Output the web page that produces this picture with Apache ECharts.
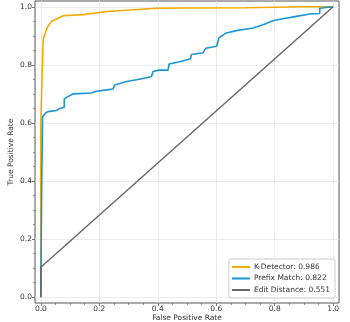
<!DOCTYPE html>
<html>
<head>
<meta charset="utf-8">
<style>
  html, body { margin: 0; padding: 0; background: #fff; }
  #chart { width: 350px; height: 322px; }
</style>
<script src="https://cdn.jsdelivr.net/npm/echarts@6/dist/echarts.min.js"></script>
</head>
<body>
<div id="chart"></div>
<script>
// ROC curves
var kdName = 'K-Detector: 0.986'
var kdX = [0, 0, 0.004, 0.008, 0.014, 0.022, 0.036, 0.054, 0.076, 0.145, 0.150, 0.225, 0.304, 0.396, 0.5, 0.7, 0.9, 1.0]
var kdY = [0, 0.6, 0.76, 0.889, 0.906, 0.929, 0.950, 0.958, 0.969, 0.973, 0.979, 0.984, 0.989, 0.995, 0.996, 0.997, 1.0, 1.0]

var pmName = 'Prefix Match: 0.822'
var pmX = [0, 0.003, 0.006, 0.019, 0.031, 0.054, 0.065, 0.080, 0.080, 0.088, 0.110, 0.173, 0.190, 0.225, 0.247, 0.253, 0.293, 0.327, 0.378, 0.384, 0.404, 0.435, 0.439, 0.475, 0.512, 0.515, 0.555, 0.564, 0.601, 0.610, 0.635, 0.669, 0.726, 0.760, 0.794, 0.823, 0.874, 0.920, 0.954, 0.954, 1.0]
var pmY = [0, 0.4, 0.622, 0.637, 0.640, 0.643, 0.650, 0.654, 0.683, 0.688, 0.700, 0.703, 0.709, 0.714, 0.717, 0.731, 0.743, 0.749, 0.759, 0.777, 0.782, 0.782, 0.803, 0.811, 0.821, 0.836, 0.842, 0.857, 0.864, 0.894, 0.910, 0.918, 0.927, 0.938, 0.952, 0.958, 0.967, 0.975, 0.977, 0.995, 1.0]

var edName = 'Edit Distance: 0.551'
var edX = [0, 0, 1]
var edY = [0, 0.103, 1]

var majorTicks = [0, 0.2, 0.4, 0.6, 0.8, 1.0]
var minorTicks = [0.05, 0.1, 0.15, 0.25, 0.3, 0.35, 0.45, 0.5, 0.55, 0.65, 0.7, 0.75, 0.85, 0.9, 0.95]

function pairs(xs, ys) {
  return xs.map(function(x, i) { return [x, ys[i]] })
}

var spineColor = '#555'
var textColor = '#333'
var font = 'DejaVu Sans'

function majorAxis(name, isX) {
  return {
    type: 'value',
    min: -0.02,
    max: 1.02,
    name: name,
    nameLocation: 'middle',
    nameGap: isX ? 11 : 20,
    nameMoveOverlap: false,
    nameTextStyle: { fontSize: 7.5, color: textColor, fontFamily: font },
    axisLine: { show: false, onZero: false },
    axisTick: { show: true, customValues: majorTicks, length: 3, lineStyle: { color: spineColor, width: 0.8 } },
    axisLabel: {
      customValues: majorTicks,
      fontSize: 7.5,
      color: textColor,
      fontFamily: font,
      margin: isX ? 2 : 3,
      formatter: function(v) { return v.toFixed(1) }
    },
    splitLine: { show: true, lineStyle: { color: '#e6e6e6', width: 0.8 } }
  }
}

function minorAxis() {
  return {
    type: 'value',
    min: -0.02,
    max: 1.02,
    axisLine: { show: false, onZero: false },
    axisTick: { show: true, customValues: minorTicks, length: 2, lineStyle: { color: spineColor, width: 0.6 } },
    axisLabel: { show: false },
    splitLine: { show: false }
  }
}

var xMinor = minorAxis()
xMinor.position = 'bottom'
var yMinor = minorAxis()
yMinor.position = 'left'

var chart = echarts.init(document.getElementById('chart'), null, { renderer: 'canvas' })
chart.setOption({
  animation: false,
  backgroundColor: '#fff',
  textStyle: { fontFamily: font },
  grid: {
    left: 35,
    right: 11,
    top: 1,
    bottom: 19,
    show: true,
    borderColor: spineColor,
    borderWidth: 1,
    containLabel: false,
    outerBoundsMode: 'none'
  },
  xAxis: [majorAxis('False Positive Rate', true), xMinor],
  yAxis: [majorAxis('True Positive Rate', false), yMinor],
  legend: {
    data: [kdName, pmName, edName],
    orient: 'vertical',
    right: 15,
    bottom: 24,
    icon: 'rect',
    itemWidth: 18,
    itemHeight: 2,
    itemGap: 3.5,
    padding: [4, 5, 4, 3],
    borderColor: '#ccc',
    borderWidth: 1,
    borderRadius: 2,
    backgroundColor: 'rgba(255,255,255,0.85)',
    textStyle: { fontSize: 7.5, color: textColor, fontFamily: font, padding: [0, 0, 0, -1] }
  },
  series: [
    {
      name: kdName, type: 'line', data: pairs(kdX, kdY),
      showSymbol: false, symbol: 'none',
      color: '#f4aa00',
      lineStyle: { width: 1.6 }
    },
    {
      name: pmName, type: 'line', data: pairs(pmX, pmY),
      showSymbol: false, symbol: 'none',
      color: '#1a96d4',
      lineStyle: { width: 1.6 }
    },
    {
      name: edName, type: 'line', data: pairs(edX, edY),
      showSymbol: false, symbol: 'none',
      color: '#666666',
      lineStyle: { width: 1.4 }
    }
  ]
})
</script>
</body>
</html>
